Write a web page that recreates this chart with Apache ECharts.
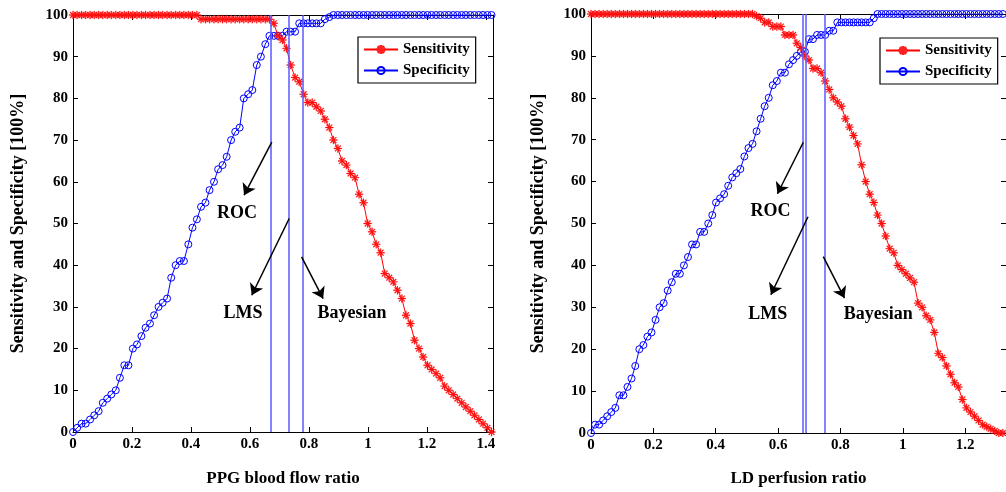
<!DOCTYPE html>
<html>
<head>
<meta charset="utf-8">
<script src="https://cdn.jsdelivr.net/npm/echarts@6/dist/echarts.min.js"></script>
<style>
html,body{margin:0;padding:0;background:#fff;}
#main{width:1006px;height:492px;}
</style>
</head>
<body>
<div id="main"></div>
<script>
// left panel: PPG blood flow ratio thresholds
const ppgRatio = [0.000,0.014,0.029,0.043,0.058,0.072,0.087,0.101,0.116,0.130,
  0.145,0.159,0.174,0.188,0.203,0.217,0.232,0.246,0.261,0.275,
  0.290,0.304,0.319,0.333,0.348,0.362,0.376,0.391,0.405,0.420,
  0.434,0.449,0.463,0.478,0.492,0.507,0.521,0.536,0.550,0.565,
  0.579,0.594,0.608,0.623,0.637,0.652,0.666,0.681,0.695,0.710,
  0.724,0.738,0.753,0.767,0.782,0.796,0.811,0.825,0.840,0.854,
  0.869,0.883,0.898,0.912,0.927,0.941,0.956,0.970,0.985,0.999,
  1.014,1.028,1.043,1.057,1.072,1.086,1.100,1.115,1.129,1.144,
  1.158,1.173,1.187,1.202,1.216,1.231,1.245,1.260,1.274,1.289,
  1.303,1.318,1.332,1.347,1.361,1.376,1.390,1.405,1.419]
const ppgSensitivity = [100,100,100,100,100,100,100,100,100,100,
  100,100,100,100,100,100,100,100,100,100,
  100,100,100,100,100,100,100,100,100,100,
  99,99,99,99,99,99,99,99,99,99,
  99,99,99,99,99,99,99,98,95,94,
  92,88,85,84,81,79,79,78,77,75,
  73,70,68,65,64,62,61,57,55,50,
  48,45,43,38,37,36,34,32,28,26,
  22,20,18,16,15,14,13,11,10,9,
  8,7,6,5,4,3,2,1,0]
const ppgSpecificity = [0,1,2,2,3,4,5,7,8,9,
  10,13,16,16,20,21,23,25,26,28,
  30,31,32,37,40,41,41,45,49,51,
  54,55,58,60,63,64,66,70,72,73,
  80,81,82,88,90,93,95,95,95,95,
  96,96,96,98,98,98,98,98,98,99,
  99.5,100,100,100,100,100,100,100,100,100,
  100,100,100,100,100,100,100,100,100,100,
  100,100,100,100,100,100,100,100,100,100,
  100,100,100,100,100,100,100,100,100]
const ppgCutoffs = [0.674, 0.735, 0.775]   // ROC, LMS, Bayesian

// right panel: LD perfusion ratio thresholds
const ldRatio = [0.000,0.013,0.026,0.039,0.052,0.065,0.078,0.091,0.104,0.117,
  0.130,0.142,0.155,0.168,0.181,0.194,0.207,0.220,0.233,0.246,
  0.259,0.272,0.285,0.298,0.311,0.324,0.337,0.350,0.363,0.376,
  0.389,0.401,0.414,0.427,0.440,0.453,0.466,0.479,0.492,0.505,
  0.518,0.531,0.544,0.557,0.570,0.583,0.596,0.609,0.622,0.635,
  0.648,0.660,0.673,0.686,0.699,0.712,0.725,0.738,0.751,0.764,
  0.777,0.790,0.803,0.816,0.829,0.842,0.855,0.868,0.881,0.894,
  0.907,0.919,0.932,0.945,0.958,0.971,0.984,0.997,1.010,1.023,
  1.036,1.049,1.062,1.075,1.088,1.101,1.114,1.127,1.140,1.153,
  1.166,1.178,1.191,1.204,1.217,1.230,1.243,1.256,1.269,1.282,
  1.295,1.308,1.321]
const ldSensitivity = [100,100,100,100,100,100,100,100,100,100,
  100,100,100,100,100,100,100,100,100,100,
  100,100,100,100,100,100,100,100,100,100,
  100,100,100,100,100,100,100,100,100,100,
  100,99.5,99,98,98,97,97,97,95,95,
  95,93,92,90,89,87,87,86,84,82,
  80,79,78,75,73,71,69,64,60,57,
  55,52,50,47,44,43,40,39,38,37,
  36,31,30,28,27,24,19,18,16,14,
  12,11,8,6,5,4,3,2,1.5,1,
  0.5,0,0]
const ldSpecificity = [0,2,2,3,4,5,6,9,9,11,
  13,16,20,21,23,24,27,30,31,34,
  36,38,38,40,42,45,45,48,48,50,
  52,55,56,57,59,61,62,63,66,68,
  69,72,75,78,80,83,84,86,86,88,
  89,90,91,91,94,94,95,95,95,96,
  96,98,98,98,98,98,98,98,98,98,
  99,100,100,100,100,100,100,100,100,100,
  100,100,100,100,100,100,100,100,100,100,
  100,100,100,100,100,100,100,100,100,100,
  100,100,100]
const ldCutoffs = [0.681, 0.695, 0.746]

// annotation arrows [from, to] and labels, in data units
const ppgArrows = [[[0.674,69.5],[0.580,56.8]], [[0.733,51.2],[0.606,32.8]], [[0.775,42],[0.848,32]]]
const ppgNotes = [['ROC',0.556,52.5], ['LMS',0.576,28.5], ['Bayesian',0.946,28.5]]
const ldArrows = [[[0.681,69.4],[0.598,57.1]], [[0.696,51.6],[0.577,33]], [[0.745,42.1],[0.813,32.2]]]
const ldNotes = [['ROC',0.576,52.8], ['LMS',0.567,28.3], ['Bayesian',0.921,28.3]]

const FONT = 'Liberation Serif'
const STAR = 'path://M-1.2,-10L1.2,-10L1.2,10L-1.2,10Z M-10,-1.2L10,-1.2L10,1.2L-10,1.2Z M-7.9,-6.2L-6.2,-7.9L7.9,6.2L6.2,7.9Z M6.2,-7.9L7.9,-6.2L-6.2,7.9L-7.9,6.2Z'

function pairs(xs, ys){
  return xs.map((x,i)=>[x, ys[i]])
}

function xAxes(max, name, gap){
  const base = {
    type:'value', min:0, max:max, interval:0.2,
    axisLine:{show:true, onZero:false, lineStyle:{color:'#000', width:1}},
    axisTick:{show:true, inside:true, length:5, lineStyle:{color:'#000'}},
    splitLine:{show:false}
  }
  return [
    Object.assign({}, base, {
      position:'bottom', name:name, nameLocation:'middle', nameGap:gap,
      nameTextStyle:{fontFamily:FONT, fontWeight:'bold', fontSize:17, color:'#000'},
      axisLabel:{fontFamily:FONT, fontWeight:'bold', fontSize:15, color:'#000', margin:5, showMaxLabel:false}
    }),
    Object.assign({}, base, {position:'top', axisLabel:{show:false}})
  ]
}

function yAxes(gap){
  const base = {
    type:'value', min:0, max:100, interval:10,
    axisLine:{show:true, onZero:false, lineStyle:{color:'#000', width:1}},
    axisTick:{show:true, inside:true, length:5, lineStyle:{color:'#000'}},
    splitLine:{show:false}
  }
  return [
    Object.assign({}, base, {
      position:'left', name:'Sensitivity and Specificity [100%]', nameLocation:'middle', nameGap:gap,
      nameTextStyle:{fontFamily:FONT, fontWeight:'bold', fontSize:18, color:'#000'},
      axisLabel:{fontFamily:FONT, fontWeight:'bold', fontSize:15, color:'#000', margin:5}
    }),
    Object.assign({}, base, {position:'right', axisLabel:{show:false}})
  ]
}

function curveSeries(xi, yi, xs, sens, spec, cutoffs){
  return [
    {
      name:'Sensitivity', type:'line', xAxisIndex:xi, yAxisIndex:yi,
      data:pairs(xs, sens),
      symbol:STAR, symbolSize:8,
      itemStyle:{color:'#ff0000', borderColor:'#ff2020', borderWidth:0.3},
      lineStyle:{color:'#ff0000', width:1},
      z:3
    },
    {
      name:'Specificity', type:'line', xAxisIndex:xi, yAxisIndex:yi,
      data:pairs(xs, spec),
      symbol:'circle', symbolSize:7,
      itemStyle:{color:'rgba(255,255,255,0)', borderColor:'#0000ff', borderWidth:1},
      lineStyle:{color:'#0000ff', width:1},
      markLine:{
        silent:true, symbol:'none', animation:false,
        label:{show:false},
        lineStyle:{color:'#5a5aff', width:1.5, type:'solid'},
        data:cutoffs.map(v=>({xAxis:v}))
      },
      z:2
    }
  ]
}

function noteSeries(xi, yi, arrows, notes){
  return {
    type:'line', xAxisIndex:xi, yAxisIndex:yi, data:[], silent:true,
    markLine:{
      symbol:['none','arrow'], symbolSize:11, animation:false,
      label:{show:false},
      lineStyle:{color:'#000', width:1.5, type:'solid'},
      data:arrows.map(a=>[{coord:a[0]},{coord:a[1]}])
    },
    markPoint:{
      symbol:'circle', symbolSize:1, animation:false,
      itemStyle:{color:'rgba(0,0,0,0)'},
      label:{show:true, position:'inside', formatter:'{b}', fontFamily:FONT, fontWeight:'bold', fontSize:18, color:'#000'},
      data:notes.map(n=>({name:n[0], coord:[n[1], n[2]]}))
    }
  }
}

function legendAt(left, top){
  return {
    orient:'vertical', left:left, top:top,
    data:['Sensitivity','Specificity'],
    backgroundColor:'#fff', borderColor:'#000', borderWidth:1.2,
    padding:[5,6,5,5], itemGap:6, itemWidth:34, itemHeight:9,
    selectedMode:false,
    textStyle:{fontFamily:FONT, fontWeight:'bold', fontSize:15, color:'#000', lineHeight:15}
  }
}

const chart = echarts.init(document.getElementById('main'))
const option = {
  animation:false,
  backgroundColor:'#fff',
  grid:[
    {left:73, top:15, width:420, height:417},
    {left:591, top:14, width:436, height:422}
  ],
  xAxis:[].concat(
    xAxes(1.424, 'PPG blood flow ratio', 38).map(a=>Object.assign(a,{gridIndex:0})),
    xAxes(1.331, 'LD perfusion ratio', 37).map(a=>Object.assign(a,{gridIndex:1}))
  ),
  yAxis:[].concat(
    yAxes(46).map(a=>Object.assign(a,{gridIndex:0})),
    yAxes(44).map(a=>Object.assign(a,{gridIndex:1}))
  ),
  legend:[legendAt(358, 37), legendAt(880, 38)],
  series:[].concat(
    curveSeries(0, 0, ppgRatio, ppgSensitivity, ppgSpecificity, ppgCutoffs),
    [noteSeries(0, 0, ppgArrows, ppgNotes)],
    curveSeries(2, 2, ldRatio, ldSensitivity, ldSpecificity, ldCutoffs),
    [noteSeries(2, 2, ldArrows, ldNotes)]
  )
}
chart.setOption(option)
</script>
</body>
</html>
